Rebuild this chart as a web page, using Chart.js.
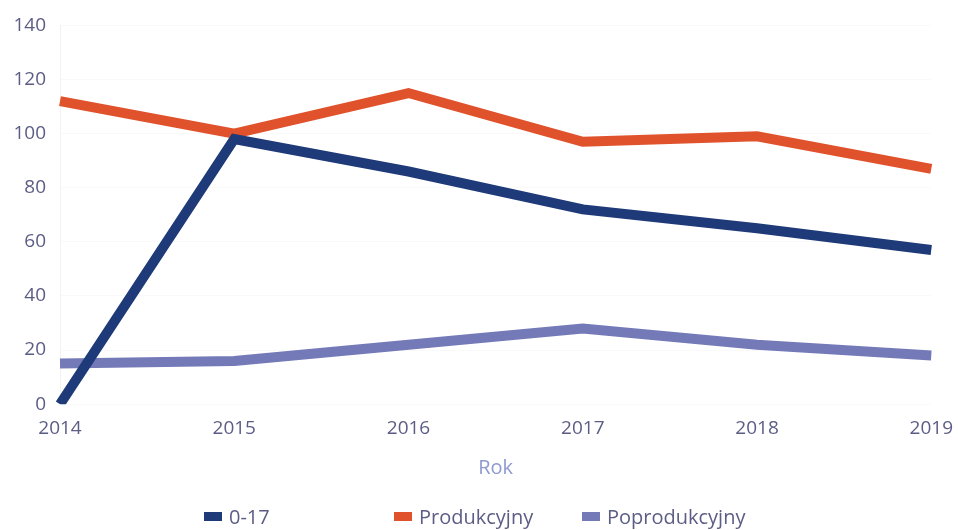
<!DOCTYPE html>
<html>
<head>
<meta charset="utf-8">
<script src="https://cdn.jsdelivr.net/npm/chart.js@4.4.0/dist/chart.umd.min.js"></script>
<style>
  html, body { margin: 0; padding: 0; background: #fff; }
  #wrap { position: relative; width: 958px; height: 530px; }
  #legenda { position: absolute; top: 504px; left: 0; width: 958px; height: 26px;
    font-family: "Open Sans", sans-serif; font-size: 20px; color: #5b5d85; }
  #legenda span { position: absolute; top: 0; line-height: 26px; white-space: nowrap; }
  #legenda i { display: inline-block; width: 18px; height: 9px; margin-right: 7px; vertical-align: 3px; }
</style>
</head>
<body>
<div id="wrap">
  <canvas id="chart" width="958" height="530"></canvas>
  <div id="legenda"></div>
</div>
<script>
  // dane
  var lata = ["2014", "2015", "2016", "2017", "2018", "2019"];
  var wiek017 = [0, 98, 86, 72, 65, 57];
  var produkcyjny = [112, 100, 115, 97, 99, 87];
  var poprodukcyjny = [15, 16, 22, 28, 22, 18];

  var kolory = ["#1f3a78", "#e0522b", "#7479b8"];
  var nazwy = ["0-17", "Produkcyjny", "Poprodukcyjny"];
  var legendaX = [204, 394, 582];

  var czcionka = "'Open Sans', sans-serif";
  var tekst = "#5b5d85";

  function seria(nazwa, dane, kolor) {
    return {
      label: nazwa,
      data: dane,
      borderColor: kolor,
      backgroundColor: kolor,
      borderWidth: 10,
      pointRadius: 0,
      tension: 0,
      borderJoinStyle: "miter",
      borderCapStyle: "butt"
    };
  }

  var ctx = document.getElementById("chart").getContext("2d");
  window.wykres = new Chart(ctx, {
    type: "line",
    data: {
      labels: lata,
      datasets: [
        seria(nazwy[0], wiek017, kolory[0]),
        seria(nazwy[1], produkcyjny, kolory[1]),
        seria(nazwy[2], poprodukcyjny, kolory[2])
      ]
    },
    options: {
      responsive: false,
      animation: false,
      layout: { padding: { top: 10, right: 26, bottom: 46, left: 0 } },
      plugins: {
        legend: { display: false },
        tooltip: { enabled: false }
      },
      scales: {
        x: {
          offset: false,
          grid: { display: false },
          border: { display: false },
          ticks: { color: tekst, font: { family: czcionka, size: 19 }, padding: 5, maxRotation: 0 },
          title: { display: true, text: "Rok", color: "#8e9ad0", font: { family: czcionka, size: 20 }, padding: { top: 11 } }
        },
        y: {
          min: 0,
          max: 140,
          afterFit: function(scale) { scale.width = 60; },
          ticks: { stepSize: 20, color: tekst, font: { family: czcionka, size: 19 }, padding: 14 },
          grid: { color: "rgba(0,0,0,0.025)", drawTicks: false },
          border: { color: "rgba(0,0,0,0.05)" }
        }
      }
    }
  });

  // legenda
  var leg = document.getElementById("legenda");
  nazwy.forEach(function(n, i) {
    var s = document.createElement("span");
    s.style.left = legendaX[i] + "px";
    s.innerHTML = '<i style="background:' + kolory[i] + '"></i>' + n;
    leg.appendChild(s);
  });
</script>
</body>
</html>
